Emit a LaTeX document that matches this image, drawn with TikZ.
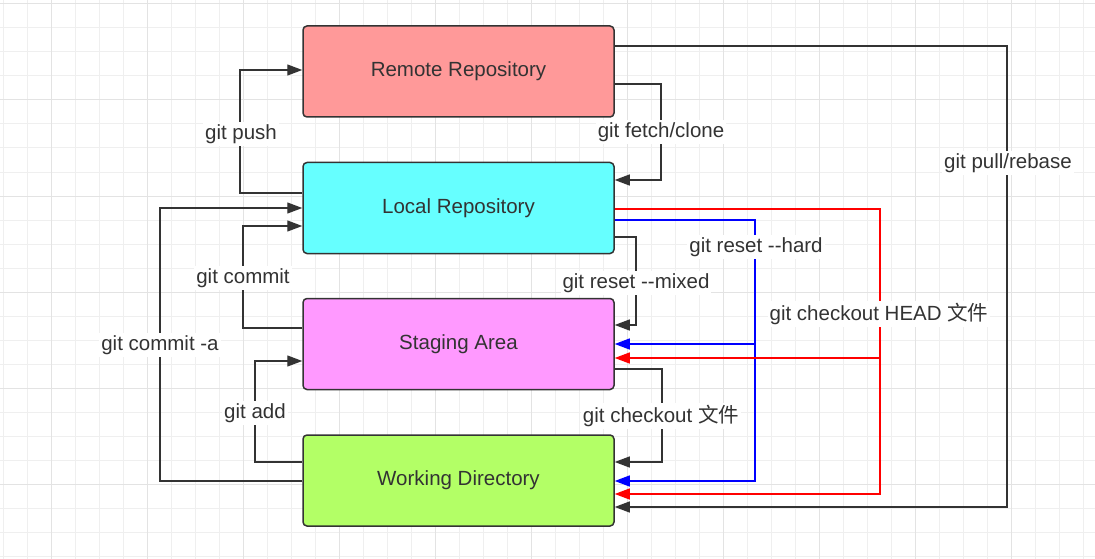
\documentclass[tikz,border=0pt]{standalone}
\usepackage{fontspec}
\setmainfont{Liberation Sans}[Ligatures=TeXOff]
\newfontfamily\cjk{Noto Sans CJK SC}
\usetikzlibrary{arrows.meta}
\definecolor{ink}{HTML}{333333}
\definecolor{remotec}{HTML}{FF9999}
\definecolor{localc}{HTML}{66FFFF}
\definecolor{stagec}{HTML}{FF99FF}
\definecolor{workc}{HTML}{B3FF66}
\definecolor{gridl}{HTML}{EFEFEF}
\definecolor{gridd}{HTML}{E3E3E3}
\definecolor{myred}{HTML}{FF0000}
\definecolor{myblue}{HTML}{0000FF}
\begin{document}
\begin{tikzpicture}[x=1pt,y=-1pt,
  box/.style={draw=ink, line width=1.5pt, rounded corners=4pt, minimum width=311pt, minimum height=91pt, text=ink, font=\fontsize{20.5}{24}\selectfont},
  tip/.style={-{Triangle[length=15pt,width=11pt]}},
  conn/.style={draw=ink, line width=1.3pt, tip},
  redconn/.style={draw=myred, line width=1.3pt, tip},
  blueconn/.style={draw=myblue, line width=1.3pt, tip},
  lbl/.style={fill=white, text=ink, inner sep=2pt, font=\fontsize{20.5}{24}\selectfont}]
\useasboundingbox (0,0) rectangle (1095,559);
\fill[white] (0,0) rectangle (1095,559);
\foreach \x in {3,27,...,1095} \draw[gridl, line width=1pt] (\x,0) -- (\x,559);
\foreach \y in {4,28,...,559} \draw[gridl, line width=1pt] (0,\y) -- (1095,\y);
\foreach \x in {51,147,...,1095} \draw[gridd, line width=1pt] (\x,0) -- (\x,559);
\foreach \y in {4,100,...,559} \draw[gridd, line width=1pt] (0,\y) -- (1095,\y);

\node[box, fill=remotec] (remote) at (458.5,71.5) {Remote Repository};
\node[box, fill=localc] (local) at (458.5,208) {Local Repository};
\node[box, fill=stagec] (stage) at (458.5,344) {Staging Area};
\node[box, fill=workc] (work) at (458.5,480.5) {Working Directory};

% git push
\draw[conn] (local.west |- 0,193) -| (240,70) -- (remote.west |- 0,70);
\node[lbl] (lpush) at (241,134) {git push};
% git fetch/clone
\draw[conn] (remote.east |- 0,84) -| (661,180) -- (local.east |- 0,180);
\node[lbl] (lfetch) at (661,132) {git fetch/clone};
% git pull/rebase
\draw[conn] (remote.east |- 0,46) -| (1007,507) -- (work.east |- 0,507);
\node[lbl] (lpull) at (1008,163) {git pull/rebase};
% git commit
\draw[conn] (stage.west |- 0,328) -| (243,226) -- (local.west |- 0,226);
\node[lbl] (lcommit) at (243,278) {git commit};
% git commit -a
\draw[conn] (work.west |- 0,481) -| (160,208) -- (local.west |- 0,208);
\node[lbl] (lcommita) at (160,345) {git commit -a};
% git add
\draw[conn] (work.west |- 0,462) -| (255,361) -- (stage.west |- 0,361);
\node[lbl] (ladd) at (255,413) {git add};
% git reset --mixed
\draw[conn] (local.east |- 0,237) -| (636,325) -- (stage.east |- 0,325);
\node[lbl] (lmixed) at (636,283) {git reset --mixed};
% git checkout file
\draw[conn] (stage.east |- 0,369) -| (662,462) -- (work.east |- 0,462);
\node[lbl] (lcheckout) at (661,416) {git checkout {\cjk 文件}};
% git reset --hard (blue)
\coordinate (hb) at (755,344);
\draw[blueconn] (local.east |- 0,220) -| (755,481) -- (work.east |- 0,481);
\draw[blueconn] (hb) -- (stage.east |- hb);
\node[lbl] (lhard) at (756,247) {git reset --hard};
% git checkout HEAD file (red)
\coordinate (hr) at (880,358);
\draw[redconn] (local.east |- 0,209) -| (880,494) -- (work.east |- 0,494);
\draw[redconn] (hr) -- (stage.east |- hr);
\node[lbl] (lhead) at (879,314) {git checkout HEAD {\cjk 文件}};
\end{tikzpicture}
\end{document}
